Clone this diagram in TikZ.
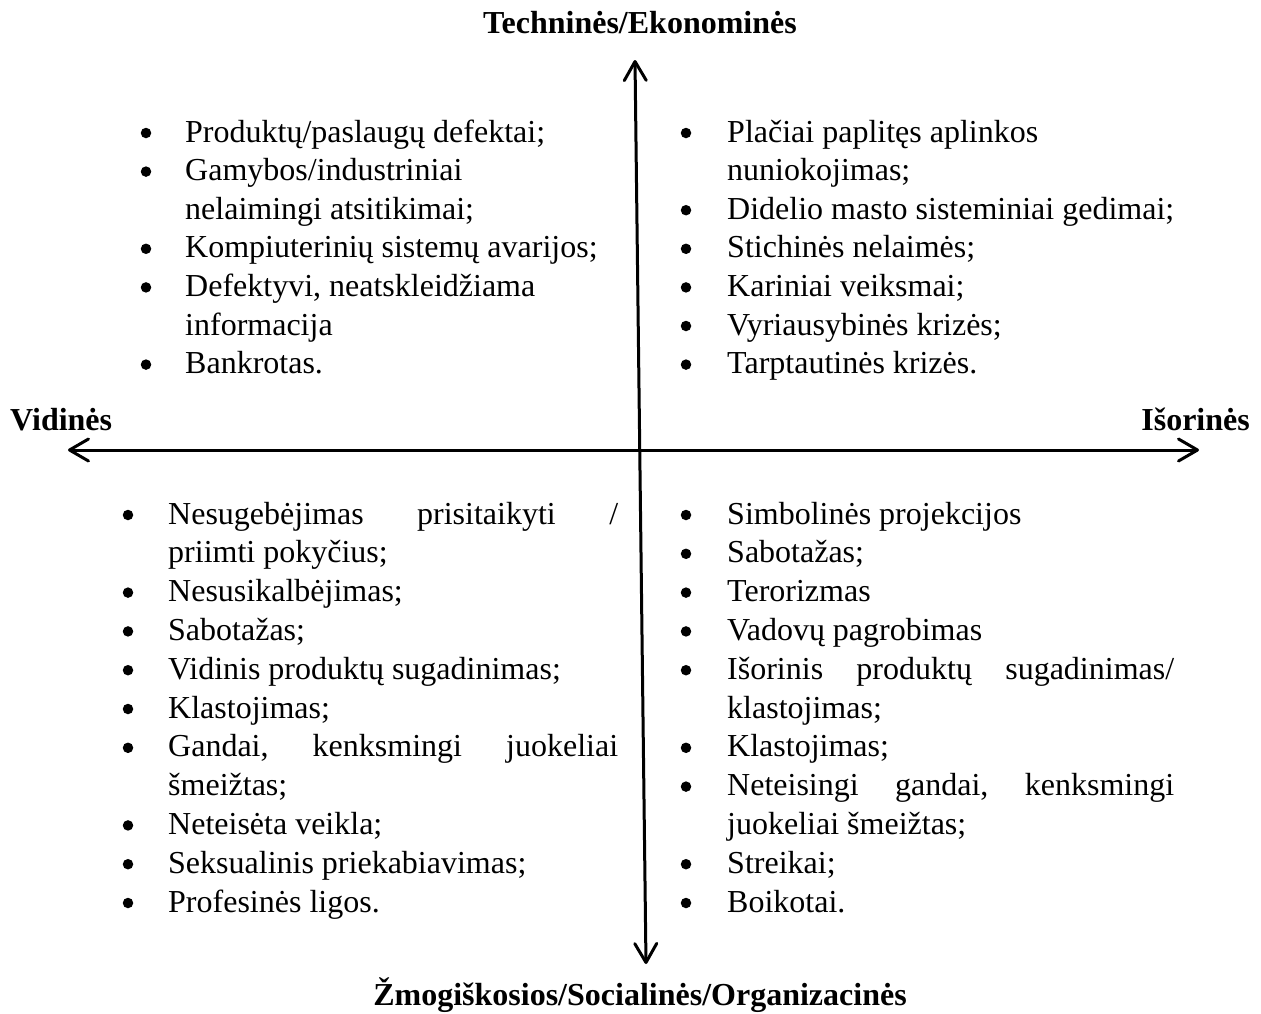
\documentclass[tikz,border=0pt]{standalone}
\usepackage{fontspec}
\setmainfont{Liberation Serif}
\usetikzlibrary{arrows.meta}
\tikzset{
  item/.style={anchor=base west, inner sep=0pt, font=\fontsize{32}{38}\selectfont},
  head/.style={inner sep=0pt, font=\fontsize{32}{38}\selectfont\bfseries},
  bul/.style={circle, fill=black, inner sep=0pt, minimum size=10.5pt},
  axis/.style={line width=3pt, {Straight Barb[length=19pt,width=22pt,round]}-{Straight Barb[length=19pt,width=22pt,round]}}
}
\begin{document}
\begin{tikzpicture}[x=1pt,y=-1pt]
\useasboundingbox (0,0) rectangle (1261,1013);
\fill[white] (0,0) rectangle (1261,1013);
% axes
\coordinate (top) at (635,60);
\coordinate (bot) at (646,964);
\coordinate (lft) at (68,450);
\coordinate (rgt) at (1199,450);
\draw[axis] (bot) -- (top);
\draw[axis] (lft) -- (rgt);
% headings
\node[head, anchor=base] (hT) at (640,33) {Techninės/Ekonominės};
\node[head, anchor=base west] (hL) at (10,430) {Vidinės};
\node[head, anchor=base east] (hR) at (1250,430) {Išorinės};
\node[head, anchor=base] (hB) at (640,1005) {Žmogiškosios/Socialinės/Organizacinės};
% top-left
\node[item] (tl1) at (185,142) {Produktų/paslaugų defektai;};
\node[item] (tl2) at (185,180.6) {Gamybos/industriniai};
\node[item] (tl3) at (185,219.2) {nelaimingi atsitikimai;};
\node[item] (tl4) at (185,257.8) {Kompiuterinių sistemų avarijos;};
\node[item] (tl5) at (185,296.4) {Defektyvi, neatskleidžiama};
\node[item] (tl6) at (185,335) {informacija};
\node[item] (tl7) at (185,373.6) {Bankrotas.};
\foreach \y in {142,180.6,257.8,296.4,373.6} \node[bul] at (146,\y-9) {};
% top-right
\node[item] (tr1) at (727,142) {Plačiai paplitęs aplinkos};
\node[item] (tr2) at (727,180.6) {nuniokojimas;};
\node[item] (tr3) at (727,219.2) {Didelio masto sisteminiai gedimai;};
\node[item] (tr4) at (727,257.8) {Stichinės nelaimės;};
\node[item] (tr5) at (727,296.4) {Kariniai veiksmai;};
\node[item] (tr6) at (727,335) {Vyriausybinės krizės;};
\node[item] (tr7) at (727,373.6) {Tarptautinės krizės.};
\foreach \y in {142,219.2,257.8,296.4,335,373.6} \node[bul] at (686,\y-9) {};
% bottom-left
\node[item] (bl1) at (168,524) {\hbox to 450pt{Nesugebėjimas\hfill prisitaikyti\hfill /}};
\node[item] (bl2) at (168,562.8) {priimti pokyčius;};
\node[item] (bl3) at (168,601.6) {Nesusikalbėjimas;};
\node[item] (bl4) at (168,640.4) {Sabotažas;};
\node[item] (bl5) at (168,679.2) {Vidinis produktų sugadinimas;};
\node[item] (bl6) at (168,718) {Klastojimas;};
\node[item] (bl7) at (168,756.8) {\hbox to 450pt{Gandai,\hfill kenksmingi\hfill juokeliai}};
\node[item] (bl8) at (168,795.6) {šmeižtas;};
\node[item] (bl9) at (168,834.4) {Neteisėta veikla;};
\node[item] (bl10) at (168,873.2) {Seksualinis priekabiavimas;};
\node[item] (bl11) at (168,912) {Profesinės ligos.};
\foreach \y in {524,601.6,640.4,679.2,718,756.8,834.4,873.2,912} \node[bul] at (128,\y-9) {};
% bottom-right
\node[item] (br1) at (727,524) {Simbolinės projekcijos};
\node[item] (br2) at (727,562.8) {Sabotažas;};
\node[item] (br3) at (727,601.6) {Terorizmas};
\node[item] (br4) at (727,640.4) {Vadovų pagrobimas};
\node[item] (br5) at (727,679.2) {\hbox to 447pt{Išorinis\hfill produktų\hfill sugadinimas/}};
\node[item] (br6) at (727,718) {klastojimas;};
\node[item] (br7) at (727,756.8) {Klastojimas;};
\node[item] (br8) at (727,795.6) {\hbox to 447pt{Neteisingi\hfill gandai,\hfill kenksmingi}};
\node[item] (br9) at (727,834.4) {juokeliai šmeižtas;};
\node[item] (br10) at (727,873.2) {Streikai;};
\node[item] (br11) at (727,912) {Boikotai.};
\foreach \y in {524,562.8,601.6,640.4,679.2,756.8,795.6,873.2,912} \node[bul] at (686,\y-9) {};
\end{tikzpicture}
\end{document}
